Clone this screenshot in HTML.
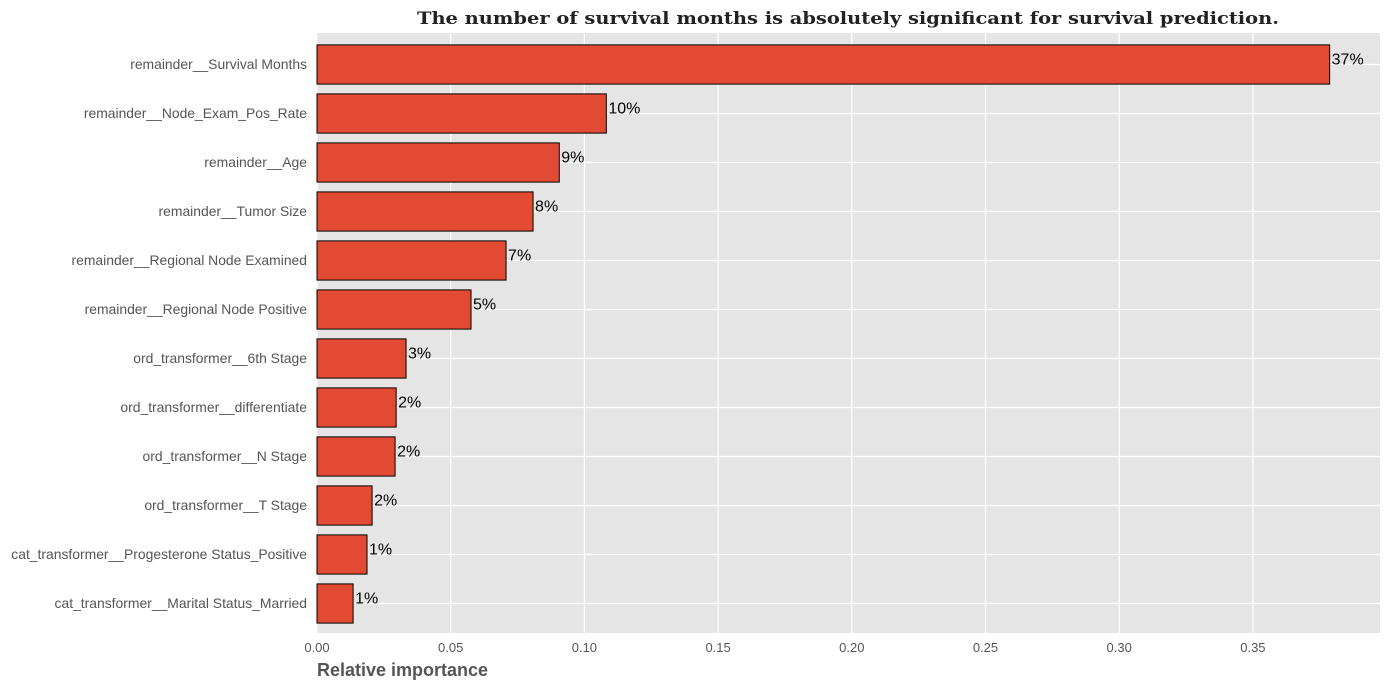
<!DOCTYPE html>
<html><head><meta charset="utf-8"><style>
body{margin:0;background:#fff;}
svg{display:block;font-family:"Liberation Sans",sans-serif;}
</style></head><body>
<svg id="chart" width="1389" height="690"></svg>
<script>
const categories=["remainder__Survival Months","remainder__Node_Exam_Pos_Rate","remainder__Age","remainder__Tumor Size","remainder__Regional Node Examined","remainder__Regional Node Positive","ord_transformer__6th Stage","ord_transformer__differentiate","ord_transformer__N Stage","ord_transformer__T Stage","cat_transformer__Progesterone Status_Positive","cat_transformer__Marital Status_Married"];
const values=[0.3787,0.1082,0.0906,0.0808,0.0707,0.0576,0.0333,0.0296,0.0292,0.0206,0.0187,0.0135];
const ticks=[0,0.05,0.10,0.15,0.20,0.25,0.30,0.35];
const tickLabels=["0.00","0.05","0.10","0.15","0.20","0.25","0.30","0.35"];

const NS="http://www.w3.org/2000/svg";
const svg=document.getElementById('chart');
const L=317,R=1380,T=33,B=633;
const xs=v=>L+v*2674;
const band=49;
const yc=i=>64.5+band*i;
function mk(tag,a,parent){const e=document.createElementNS(NS,tag);for(const k in a)e.setAttribute(k,a[k]);(parent||svg).appendChild(e);return e;}

const bg=mk('rect',{x:L,y:T,width:R-L,height:B-T,fill:'#e5e5e5'});



ticks.forEach((t,i)=>{
  const g=mk('line',{x1:xs(t),x2:xs(t),y1:T,y2:B,stroke:'#fff','stroke-width':1.2});
  
  
  const tl=mk('text',{x:xs(t),y:B+19,'text-anchor':'middle','font-size':13,fill:'#555'});
  tl.textContent=tickLabels[i];
  
  
});
categories.forEach((c,i)=>{
  const g=mk('line',{x1:L,x2:R,y1:yc(i),y2:yc(i),stroke:'#fff','stroke-width':1.2});
  
  
});
categories.forEach((c,i)=>{
  const h=band*0.8;
  const b=mk('rect',{x:L,y:yc(i)-h/2,width:xs(values[i])-L,height:h,fill:'#E24A33',stroke:'#000','stroke-width':1});
  
  
  const lab=mk('text',{x:L-10,y:yc(i)+4.5,'text-anchor':'end','font-size':13.9,fill:'#555'});
  lab.textContent=c;
  
  
  const vl=mk('text',{x:xs(values[i])+2,y:yc(i)+0,'font-size':16,fill:'#000'});
  vl.textContent=Math.floor(values[i]*100)+'%';
  
  
});
const title=mk('text',{x:417,y:24,'font-size':17,'font-weight':'bold','font-family':'"DejaVu Serif","Liberation Serif",serif',fill:'#222',textLength:862,lengthAdjust:'spacingAndGlyphs'});
title.textContent="The number of survival months is absolutely significant for survival prediction.";


const xt=mk('text',{x:L,y:676,'font-size':18,'font-weight':'bold',fill:'#555'});
xt.textContent="Relative importance";


</script>
</body></html>
